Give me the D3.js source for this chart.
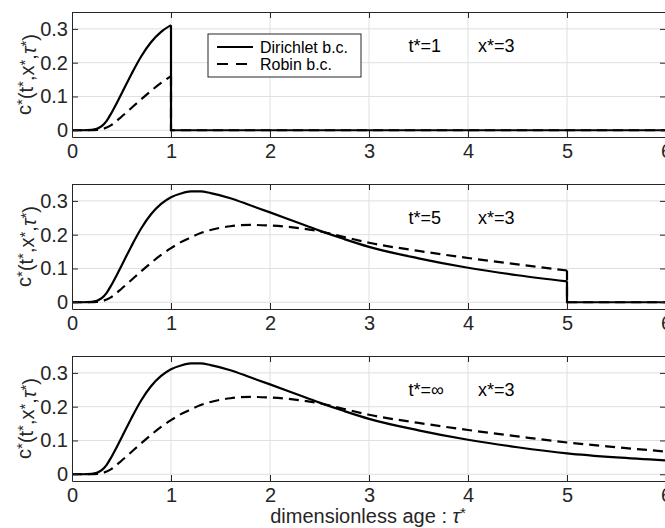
<!DOCTYPE html>
<html>
<head>
<meta charset="utf-8">
<script src="https://cdn.jsdelivr.net/npm/d3@7"></script>
<style>
  body { margin: 0; background: #fff; }
  svg { display: block; font-family: "Liberation Sans", Arial, Helvetica, sans-serif; }
</style>
</head>
<body>
<div id="chart"></div>
<script>
// dimensionless age tau* (sample points)
const TAU       = [0, 0.1, 0.2, 0.25, 0.3, 0.35, 0.4, 0.5, 0.6, 0.7, 0.8, 0.9, 1.0,
                   1.1, 1.2, 1.3, 1.4, 1.6, 1.8, 2.0, 2.25, 2.5, 2.75, 3.0, 3.5,
                   4.0, 4.5, 5.0, 5.5, 6.0];
const DIRICHLET = [0, 0, 0.001, 0.004, 0.012, 0.028, 0.052, 0.108, 0.166, 0.219, 0.261, 0.291, 0.311,
                   0.322, 0.328, 0.328, 0.323, 0.308, 0.287, 0.266, 0.239, 0.212, 0.187, 0.164, 0.130,
                   0.102, 0.080, 0.062, 0.050, 0.041];
const ROBIN     = [0, 0, 0, 0.001, 0.003, 0.008, 0.016, 0.040, 0.066, 0.092, 0.117, 0.140, 0.160,
                   0.178, 0.192, 0.205, 0.214, 0.225, 0.229, 0.227, 0.221, 0.210, 0.193, 0.176, 0.152,
                   0.131, 0.112, 0.094, 0.080, 0.067];

const T_STAR    = [1, 5, Infinity];           // observation time of each panel
const T_LABELS  = ["t*=1", "t*=5", "t*=\u221e"];
const X_LABEL   = "x*=3";
const X_TICKS   = [0, 1, 2, 3, 4, 5, 6];
const Y_TICKS   = [0, 0.1, 0.2, 0.3];
const SERIES    = [
    { name: "Dirichlet b.c.", values: DIRICHLET, dash: null },
    { name: "Robin b.c.",     values: ROBIN,     dash: "10,6" }
];

const W = 665, H = 528;
const AX_LEFT = 72, AX_RIGHT = 666, AX_H = 125;
const PANEL_TOPS = [12, 184, 356];
const AXIS_COLOR = "#262626", GRID_COLOR = "#dfdfdf";
const TICK_FONT = 20;
const LINE_W = 2.2;

const svg = d3.select("#chart").append("svg")
    .attr("width", W)
    .attr("height", H);

const xScale = d3.scaleLinear().domain([0, 6]).range([AX_LEFT, AX_RIGHT]);

T_STAR.forEach((tEnd, i) => {
    const top = PANEL_TOPS[i];
    const yScale = d3.scaleLinear().domain([-0.02, 0.35]).range([top + AX_H, top]);
    const g = svg.append("g");

    // grid
    g.selectAll(".gx").data(X_TICKS.slice(1, -1)).enter().append("line")
        .attr("x1", d => xScale(d)).attr("x2", d => xScale(d))
        .attr("y1", top).attr("y2", top + AX_H)
        .style("stroke", GRID_COLOR).style("stroke-width", 1);
    g.selectAll(".gy").data(Y_TICKS).enter().append("line")
        .attr("x1", AX_LEFT).attr("x2", AX_RIGHT)
        .attr("y1", d => yScale(d)).attr("y2", d => yScale(d))
        .style("stroke", GRID_COLOR).style("stroke-width", 1);

    // curves: values up to t*, then drop to zero
    SERIES.forEach(s => {
        const pts = TAU.map((t, k) => [t, s.values[k]]).filter(p => p[0] <= tEnd);
        const smooth = d3.line()
            .x(d => xScale(d[0])).y(d => yScale(d[1]))
            .curve(d3.curveMonotoneX);
        g.append("path")
            .attr("d", smooth(pts))
            .style("fill", "none").style("stroke", "#000")
            .style("stroke-width", LINE_W)
            .style("stroke-dasharray", s.dash);
        if (isFinite(tEnd)) {
            const tail = [[tEnd, pts[pts.length - 1][1]], [tEnd, 0], [6, 0]];
            g.append("path")
                .attr("d", d3.line().x(d => xScale(d[0])).y(d => yScale(d[1]))(tail))
                .style("fill", "none").style("stroke", "#000")
                .style("stroke-width", LINE_W)
                .style("stroke-dasharray", s.dash);
        }
    });

    // axes (ticks inward, MATLAB style)
    const styleAxis = sel => {
        sel.selectAll("path, line").style("stroke", AXIS_COLOR);
        sel.selectAll("text")
            .style("font-size", TICK_FONT + "px")
            .style("fill", AXIS_COLOR)
            .style("font-family", "'Liberation Sans', Arial, Helvetica, sans-serif");
    };
    g.append("g")
        .attr("transform", `translate(0,${top + AX_H})`)
        .call(d3.axisBottom(xScale).tickValues(X_TICKS).tickFormat(d3.format("d"))
            .tickSizeInner(-6).tickSizeOuter(0).tickPadding(7))
        .call(styleAxis);
    g.append("g")
        .attr("transform", `translate(0,${top})`)
        .call(d3.axisTop(xScale).tickValues(X_TICKS).tickFormat("")
            .tickSizeInner(-6).tickSizeOuter(0))
        .call(styleAxis);
    g.append("g")
        .attr("transform", `translate(${AX_LEFT},0)`)
        .call(d3.axisLeft(yScale).tickValues(Y_TICKS).tickFormat(d => d === 0 ? "0" : d3.format(".1f")(d))
            .tickSizeInner(-6).tickSizeOuter(0).tickPadding(4))
        .call(styleAxis);
    g.append("g")
        .attr("transform", `translate(${AX_RIGHT},0)`)
        .call(d3.axisRight(yScale).tickValues(Y_TICKS).tickFormat("")
            .tickSizeInner(-6).tickSizeOuter(0))
        .call(styleAxis);

    // y label  c*(t*,x*,τ*)
    const yl = g.append("text")
        .attr("transform", `translate(31,${top + AX_H / 2}) rotate(-90)`)
        .attr("text-anchor", "middle")
        .style("font-size", "20px").style("fill", AXIS_COLOR);
    const sup = (txt) => yl.append("tspan").attr("dy", "-0.3em").style("font-size", "15px").text(txt);
    const base = (txt, italic) => yl.append("tspan").attr("dy", "0.3em")
        .style("font-style", italic ? "italic" : null).text(txt);
    yl.append("tspan").text("c"); sup("*");
    base("(t"); sup("*");
    base(",x"); sup("*");
    base(",");
    yl.append("tspan").style("font-style", "italic").text("\u03c4"); sup("*");
    base(")");

    // annotations
    g.append("text")
        .attr("x", xScale(3.4)).attr("y", yScale(0.25))
        .attr("dy", "0.35em")
        .style("font-size", "18px").style("fill", "#000")
        .text(T_LABELS[i]);
    g.append("text")
        .attr("x", xScale(4.1)).attr("y", yScale(0.25))
        .attr("dy", "0.35em")
        .style("font-size", "18px").style("fill", "#000")
        .text(X_LABEL);

    // legend (first panel only)
    if (i === 0) {
        const lg = g.append("g").attr("transform", "translate(208,34)");
        lg.append("rect")
            .attr("width", 153).attr("height", 43)
            .style("fill", "#fff").style("stroke", AXIS_COLOR).style("stroke-width", 1);
        SERIES.forEach((s, k) => {
            const yy = 13 + k * 17;
            lg.append("line")
                .attr("x1", 9).attr("x2", 45).attr("y1", yy).attr("y2", yy)
                .style("stroke", "#000").style("stroke-width", LINE_W)
                .style("stroke-dasharray", s.dash ? "11,8" : null);
            lg.append("text")
                .attr("x", 52).attr("y", yy).attr("dy", "0.35em")
                .style("font-size", "16px").style("fill", "#000")
                .text(s.name);
        });
    }
});

// x label
const xl = svg.append("text")
    .attr("x", (269 + 467) / 2).attr("y", 523)
    .attr("text-anchor", "middle")
    .style("font-size", "20px").style("fill", AXIS_COLOR);
xl.append("tspan").text("dimensionless age : ");
xl.append("tspan").style("font-style", "italic").text("\u03c4");
xl.append("tspan").attr("dy", "-0.35em").style("font-size", "15px").text("*");
</script>
</body>
</html>
